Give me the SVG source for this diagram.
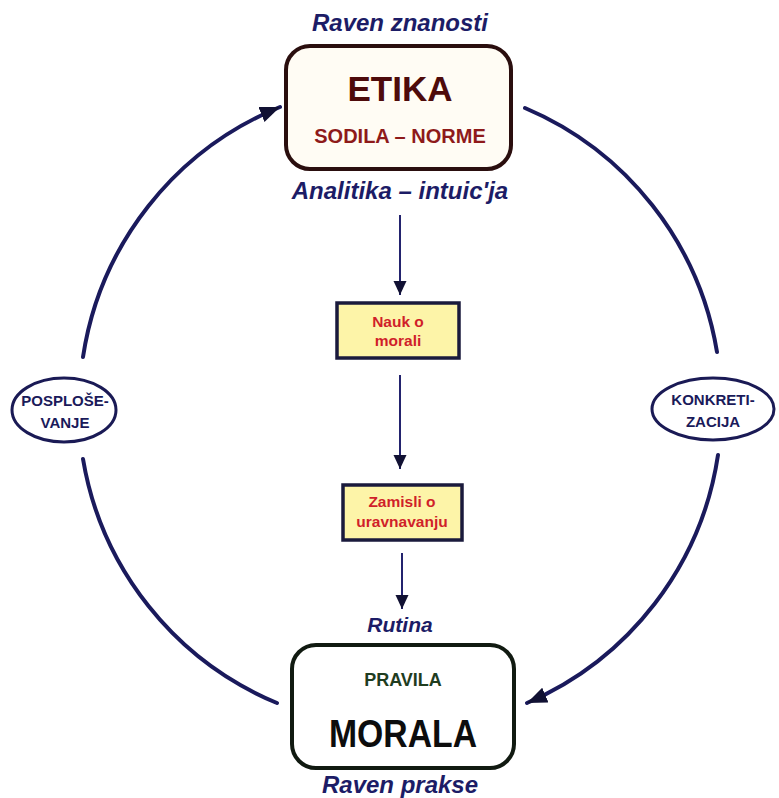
<svg xmlns="http://www.w3.org/2000/svg" width="779" height="798" viewBox="0 0 779 798">
<defs>
<style>
text{font-family:"Liberation Sans",Arial,sans-serif;font-weight:bold;text-anchor:middle}
.lbl{font-style:italic;fill:#1c1c66}
.arc{fill:none;stroke:#1a1a5c;stroke-width:4;stroke-linecap:round}
.vline{fill:none;stroke:#23236e;stroke-width:2}
.ybox{fill:#fdf4a8;stroke:#1a1a3c;stroke-width:3.5}
.ytxt{fill:#d01f2a;font-size:15.5px}
.ell{fill:#ffffff;stroke:#1a1a55;stroke-width:3}
.etxt{fill:#1a1a5a;font-size:15px}
</style>
<marker id="bigHead" markerUnits="userSpaceOnUse" markerWidth="22" markerHeight="18" refX="20" refY="8" orient="auto">
<path d="M0,0 L20,8 L0,16 Z" fill="#111133"/>
</marker>
<marker id="smallHead" markerUnits="userSpaceOnUse" markerWidth="14" markerHeight="16" refX="14" refY="6.5" orient="auto">
<path d="M0,0 L14,6.5 L0,13 Z" fill="#111133"/>
</marker>
</defs>
<rect width="779" height="798" fill="#ffffff"/>

<g id="connectors">
<path class="arc" d="M83,357 A322,322 0 0 1 280,107" marker-end="url(#bigHead)"/>
<path class="arc" d="M525,108 A322,322 0 0 1 717,352"/>
<path class="arc" d="M718,455 A322,322 0 0 1 527,703" marker-end="url(#bigHead)"/>
<path class="arc" d="M83,459 A322,322 0 0 0 277,703"/>
<path class="vline" d="M400,215 L400,295" marker-end="url(#smallHead)"/>
<path class="vline" d="M400,375 L400,469" marker-end="url(#smallHead)"/>
<path class="vline" d="M402,553 L402,609" marker-end="url(#smallHead)"/>
</g>

<g id="etika">
<text class="lbl" x="400" y="31" font-size="24">Raven znanosti</text>
<rect x="286" y="46" width="225" height="123" rx="24" fill="#fffcf4" stroke="#2a0e0e" stroke-width="4"/>
<text x="400" y="101" font-size="35" fill="#4e0b0b">ETIKA</text>
<text x="400" y="143" font-size="20" fill="#8e1a1a">SODILA – NORME</text>
<text class="lbl" x="400" y="199" font-size="24">Analitika – intuic'ja</text>
</g>

<g id="nauk">
<rect class="ybox" x="337" y="303" width="122" height="55"/>
<text class="ytxt" x="398" y="327">Nauk o</text>
<text class="ytxt" x="398" y="346">morali</text>
</g>

<g id="zamisli">
<rect class="ybox" x="343" y="485" width="119" height="55"/>
<text class="ytxt" x="402" y="507">Zamisli o</text>
<text class="ytxt" x="402" y="527">uravnavanju</text>
</g>

<g id="morala">
<text class="lbl" x="400" y="632" font-size="21">Rutina</text>
<rect x="292" y="645" width="222" height="123" rx="24" fill="#ffffff" stroke="#111a11" stroke-width="4"/>
<text x="403" y="686" font-size="18" fill="#1f3d1f">PRAVILA</text>
<text x="403" y="747" font-size="38" fill="#0d0d0d" textLength="148" lengthAdjust="spacingAndGlyphs">MORALA</text>
<text class="lbl" x="400" y="793" font-size="24">Raven prakse</text>
</g>

<g id="posplosevanje">
<ellipse class="ell" cx="64" cy="410" rx="52" ry="32"/>
<text class="etxt" x="65" y="406">POSPLOŠE-</text>
<text class="etxt" x="65" y="428">VANJE</text>
</g>

<g id="konkretizacija">
<ellipse class="ell" cx="713" cy="409" rx="61" ry="31"/>
<text class="etxt" x="713" y="405">KONKRETI-</text>
<text class="etxt" x="713" y="427">ZACIJA</text>
</g>
</svg>
